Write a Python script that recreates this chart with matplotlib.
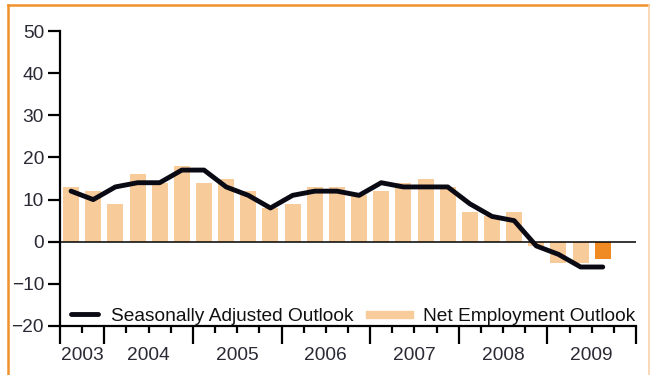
import numpy as np
import matplotlib
matplotlib.use("Agg")
import matplotlib.pyplot as plt
import matplotlib.patches as mpatches
from matplotlib.legend_handler import HandlerPatch, HandlerBase
from matplotlib.lines import Line2D

# Quarterly outlook, 2003 Q3 to 2009 Q3 (last quarter is the forecast)
quarters = ["2003Q3", "2003Q4",
            "2004Q1", "2004Q2", "2004Q3", "2004Q4",
            "2005Q1", "2005Q2", "2005Q3", "2005Q4",
            "2006Q1", "2006Q2", "2006Q3", "2006Q4",
            "2007Q1", "2007Q2", "2007Q3", "2007Q4",
            "2008Q1", "2008Q2", "2008Q3", "2008Q4",
            "2009Q1", "2009Q2", "2009Q3"]
net_outlook = [13, 12, 9, 16, 14, 18, 14, 15, 12, 8, 9, 13, 13, 11,
               12, 14, 15, 13, 7, 6, 7, -1, -5, -5, -4]
seasonal_outlook = [12, 10, 13, 14, 14, 17, 17, 13, 11, 8, 11, 12, 12, 11,
                    14, 13, 13, 13, 9, 6, 5, -1, -3, -6, -6]
years = ["2003", "2004", "2005", "2006", "2007", "2008", "2009"]
quarters_per_year = [2, 4, 4, 4, 4, 4, 4]

PEACH = "#F8CB9B"
ORANGE = "#EF8B22"
TEXT = "#2a2a35"
FS = 13.8

plt.rcParams["font.family"] = ["Liberation Sans", "DejaVu Sans"]

fig = plt.figure(figsize=(6.5, 3.75), dpi=100)
ax = fig.add_axes([60 / 650, 49 / 375, 576 / 650, 295 / 375])

x = np.arange(len(quarters))
colors = [PEACH] * (len(quarters) - 1) + [ORANGE]
ax.bar(x, net_outlook, width=0.72, color=colors, zorder=1)
ax.axhline(0, color="black", lw=1.1, zorder=2)
ax.plot(x, seasonal_outlook, color="#0a0a14", lw=3.5,
        solid_capstyle="round", solid_joinstyle="round", zorder=3)

ax.set_xlim(-0.5, 25.5)
ax.set_ylim(-20, 50)

for side in ["top", "right"]:
    ax.spines[side].set_visible(False)
for side in ["left", "bottom"]:
    ax.spines[side].set_linewidth(1.6)

ax.set_yticks(range(-20, 51, 10))
ax.tick_params(axis="y", direction="out", length=8.5, width=1.6,
               labelsize=FS, labelcolor=TEXT, pad=3)

# year boundaries as long ticks, quarter boundaries as short ones
bounds = np.cumsum([0] + quarters_per_year) - 0.5
ax.set_xticks(bounds)
ax.set_xticks(np.arange(-0.5, 26, 1), minor=True)
ax.set_xticklabels([])
ax.tick_params(axis="x", which="major", direction="out", length=13, width=1.6)
ax.tick_params(axis="x", which="minor", direction="out", length=5, width=1.6)

for i, yr in enumerate(years):
    cx = (bounds[i] + bounds[i + 1]) / 2
    ax.text(cx, -0.1, yr, transform=ax.get_xaxis_transform(),
            ha="center", va="center", fontsize=FS, color=TEXT)


def thin_patch(legend, orig_handle, xdescent, ydescent, width, height, fontsize):
    return mpatches.Rectangle((-xdescent, -ydescent + height * 0.2),
                              width, height * 0.5)


class ShortLine(HandlerBase):
    # line sample drawn over the right part of the handle box only
    def create_artists(self, legend, orig_handle, xdescent, ydescent,
                       width, height, fontsize, trans):
        y = height / 2 - ydescent
        ln = Line2D([-xdescent + 0.35 * width, -xdescent + 0.93 * width], [y, y],
                    color="#0a0a14", lw=3.5, solid_capstyle="round")
        ln.set_transform(trans)
        return [ln]


handles = [Line2D([], []), mpatches.Patch(color=PEACH)]
ax.legend(handles, ["Seasonally Adjusted Outlook", "Net Employment Outlook"],
          ncol=2, frameon=False, loc="lower left", bbox_to_anchor=(-0.01, 0.005),
          fontsize=FS, handlelength=2.45, handletextpad=0.5, columnspacing=0.68,
          borderpad=0, borderaxespad=0, labelcolor="#111111",
          handler_map={Line2D: ShortLine(),
                       mpatches.Patch: HandlerPatch(patch_func=thin_patch)})

# orange frame around the chart panel
fig.add_artist(Line2D([8 / 650, 8 / 650], [0, 370 / 375], color="#F0922B", lw=1.8))
fig.add_artist(Line2D([8 / 650, 1], [370 / 375, 370 / 375], color="#F0922B", lw=1.8))
fig.add_artist(Line2D([649 / 650, 649 / 650], [0, 370 / 375], color="#F9D2AA", lw=1.2))

fig.savefig("out.png", dpi=100)
